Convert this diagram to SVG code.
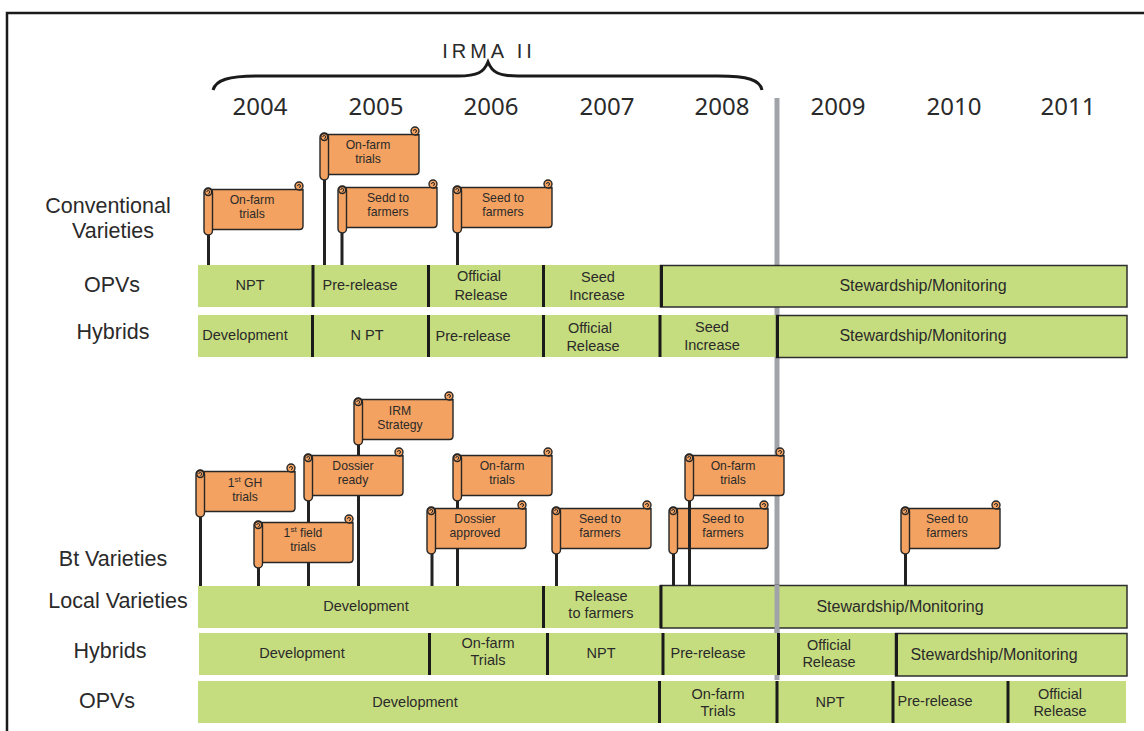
<svg xmlns="http://www.w3.org/2000/svg" xmlns:xlink="http://www.w3.org/1999/xlink" width="1144" height="731" viewBox="0 0 1144 731">
<style>
.t{font-family:"Liberation Sans",Arial,sans-serif;fill:#2a2a2a;text-anchor:middle}
.yr{font-family:"Noto Sans","Liberation Sans",sans-serif;font-size:24px}
.row{font-size:21.5px}
.bar{font-size:14.5px}
.stw{font-size:16px}
.fl{font-size:12.2px}
.seg{fill:#C6DD7F}
.box{fill:#C6DD7F;stroke:#2e2e2e;stroke-width:1.5}
.div{stroke:#1a1a1a;stroke-width:3}
.fb{fill:#F4A261;stroke:#262626;stroke-width:1.4}
.sp{fill:none;stroke:#262626;stroke-width:1}
.pole{stroke:#222;stroke-width:3}
</style>
<defs>
<g id="flag">
<path class="fb" d="M8,0.5 H99 V37 Q99,40.5 95.5,40.5 H8 Z"/>
<circle class="fb" cx="95" cy="-3" r="4"/>
<path class="sp" d="M95,-3 m-1.5,0 a1.5,1.5 0 1,1 1.5,1.5 M95,1 H99"/>
<rect class="fb" x="0" y="-1" width="8.5" height="47" rx="4.25"/>
<circle class="fb" cx="4.25" cy="3" r="3.5"/>
<path class="sp" d="M4.25,3 m-1.5,0 a1.5,1.5 0 1,1 1.5,1.5"/>
</g>
</defs>
<rect width="1144" height="731" fill="#fff"/>
<path d="M7,731 V13 H1144" fill="none" stroke="#1a1a1a" stroke-width="2.5"/>
<g id="title">
<text class="t" x="489" y="58" font-size="20" letter-spacing="4" font-family="Noto Sans, sans-serif">IRMA II</text>
<path d="M213,90 C216,80 228,76 258,76 L458,76 C478,76 484,72 488,62 C492,72 498,76 518,76 L718,76 C748,76 760,80 762,90" fill="none" stroke="#1a1a1a" stroke-width="3"/>
</g>
<g id="years">
<text class="t yr" x="260" y="115">2004</text>
<text class="t yr" x="376" y="115">2005</text>
<text class="t yr" x="491" y="115">2006</text>
<text class="t yr" x="607" y="115">2007</text>
<text class="t yr" x="722" y="115">2008</text>
<text class="t yr" x="838" y="115">2009</text>
<text class="t yr" x="954" y="115">2010</text>
<text class="t yr" x="1068" y="115">2011</text>
</g>
<g id="row-labels">
<text class="t row" x="108" y="213">Conventional</text>
<text class="t row" x="113" y="238">Varieties</text>
<text class="t row" x="112" y="292">OPVs</text>
<text class="t row" x="113" y="339">Hybrids</text>
<text class="t row" x="113" y="566">Bt Varieties</text>
<text class="t row" x="118" y="608">Local Varieties</text>
<text class="t row" x="110" y="658">Hybrids</text>
<text class="t row" x="107" y="708">OPVs</text>
</g>
<g id="connectors">
<line x1="777" y1="98" x2="777" y2="680" stroke="#A0A4A8" stroke-width="5"/>
</g>
<g id="c-opv-npt"><rect class="seg" x="198" y="265" width="116" height="42"/><text class="t bar" x="250" y="290">NPT</text></g>
<g id="c-opv-pre"><rect class="seg" x="313" y="265" width="116" height="42"/><text class="t bar" x="360" y="290">Pre-release</text></g>
<g id="c-opv-off"><rect class="seg" x="428" y="265" width="116" height="42"/><text class="t bar" x="479" y="281">Official</text><text class="t bar" x="481" y="300">Release</text></g>
<g id="c-opv-seed"><rect class="seg" x="543" y="265" width="117" height="42"/><text class="t bar" x="598" y="282">Seed</text><text class="t bar" x="597" y="300">Increase</text></g>
<g id="c-opv-stw"><rect class="box" x="660.5" y="265.5" width="466.5" height="41.5"/><text class="t stw" x="923" y="291">Stewardship/Monitoring</text></g>
<g id="c-hyb-dev"><rect class="seg" x="198" y="315" width="115" height="42"/><text class="t bar" x="245" y="340">Development</text></g>
<g id="c-hyb-npt"><rect class="seg" x="312" y="315" width="117" height="42"/><text class="t bar" x="367" y="340">N PT</text></g>
<g id="c-hyb-pre"><rect class="seg" x="428" y="315" width="116" height="42"/><text class="t bar" x="473" y="341">Pre-release</text></g>
<g id="c-hyb-off"><rect class="seg" x="543" y="315" width="118" height="42"/><text class="t bar" x="590" y="333">Official</text><text class="t bar" x="593" y="351">Release</text></g>
<g id="c-hyb-seed"><rect class="seg" x="660" y="315" width="116" height="42"/><text class="t bar" x="712" y="332" font-size="15.5">Seed</text><text class="t bar" x="712" y="350" font-size="15.5">Increase</text></g>
<g id="c-hyb-stw"><rect class="box" x="776.5" y="315.5" width="350.5" height="42"/><text class="t stw" x="923" y="341">Stewardship/Monitoring</text></g>
<g id="b-loc-dev"><rect class="seg" x="198" y="586" width="346" height="42"/><text class="t bar" x="366" y="611">Development</text></g>
<g id="b-loc-rel"><rect class="seg" x="543" y="586" width="117" height="42"/><text class="t bar" x="601" y="601">Release</text><text class="t bar" x="601" y="618">to farmers</text></g>
<g id="b-loc-stw"><rect class="box" x="660.5" y="585.5" width="466.5" height="42.5"/><text class="t stw" x="900" y="612">Stewardship/Monitoring</text></g>
<g id="b-hyb-dev"><rect class="seg" x="199" y="633" width="231" height="42"/><text class="t bar" x="302" y="658">Development</text></g>
<g id="b-hyb-farm"><rect class="seg" x="429" y="633" width="119" height="42"/><text class="t bar" x="488" y="648">On-farm</text><text class="t bar" x="488" y="665">Trials</text></g>
<g id="b-hyb-npt"><rect class="seg" x="547" y="633" width="117" height="42"/><text class="t bar" x="601" y="658">NPT</text></g>
<g id="b-hyb-pre"><rect class="seg" x="663" y="633" width="116" height="42"/><text class="t bar" x="708" y="658">Pre-release</text></g>
<g id="b-hyb-off"><rect class="seg" x="778" y="633" width="118" height="42"/><text class="t bar" x="829" y="650">Official</text><text class="t bar" x="829" y="667">Release</text></g>
<g id="b-hyb-stw"><rect class="box" x="895.5" y="633.5" width="231.5" height="42.5"/><text class="t stw" x="994" y="660">Stewardship/Monitoring</text></g>
<g id="b-opv-dev"><rect class="seg" x="198" y="681" width="462" height="42"/><text class="t bar" x="415" y="707">Development</text></g>
<g id="b-opv-farm"><rect class="seg" x="659" y="681" width="119" height="42"/><text class="t bar" x="718" y="699">On-farm</text><text class="t bar" x="718" y="716">Trials</text></g>
<g id="b-opv-npt"><rect class="seg" x="777" y="681" width="117" height="42"/><text class="t bar" x="830" y="707">NPT</text></g>
<g id="b-opv-pre"><rect class="seg" x="893" y="681" width="116" height="42"/><text class="t bar" x="935" y="706">Pre-release</text></g>
<g id="b-opv-off"><rect class="seg" x="1008" y="681" width="118" height="42"/><text class="t bar" x="1060" y="699">Official</text><text class="t bar" x="1060" y="716">Release</text></g>
<g id="dividers">
<line class="div" x1="313" y1="265" x2="313" y2="307"/>
<line class="div" x1="428.5" y1="265" x2="428.5" y2="307"/>
<line class="div" x1="543.5" y1="265" x2="543.5" y2="307"/>
<line class="div" x1="661.5" y1="265" x2="661.5" y2="307"/>
<line class="div" x1="312.5" y1="315" x2="312.5" y2="357"/>
<line class="div" x1="428.5" y1="315" x2="428.5" y2="357"/>
<line class="div" x1="543.5" y1="315" x2="543.5" y2="357"/>
<line class="div" x1="660" y1="315" x2="660" y2="357"/>
<line class="div" x1="777.5" y1="315" x2="777.5" y2="358"/>
<line class="div" x1="543.5" y1="586" x2="543.5" y2="628"/>
<line class="div" x1="661" y1="585" x2="661" y2="628"/>
<line class="div" x1="429.5" y1="633" x2="429.5" y2="675"/>
<line class="div" x1="547.5" y1="633" x2="547.5" y2="675"/>
<line class="div" x1="663" y1="633" x2="663" y2="675"/>
<line class="div" x1="778.5" y1="633" x2="778.5" y2="675"/>
<line class="div" x1="896.5" y1="633" x2="896.5" y2="676"/>
<line class="div" x1="659.5" y1="681" x2="659.5" y2="723"/>
<line class="div" x1="777" y1="681" x2="777" y2="723"/>
<line class="div" x1="893" y1="681" x2="893" y2="723"/>
<line class="div" x1="1008" y1="681" x2="1008" y2="723"/>
</g>
<g id="gray-overlay"><line x1="777" y1="585" x2="777" y2="633" stroke="#A0A4A8" stroke-width="5"/></g>
<g id="flag-c1"><line class="pole" x1="208.5" y1="230" x2="208.5" y2="265"/><use xlink:href="#flag" x="204" y="189"/><text class="t fl" x="252" y="204">On-farm</text><text class="t fl" x="252" y="218">trials</text></g>
<g id="flag-c2"><line class="pole" x1="324.5" y1="175" x2="324.5" y2="265"/><use xlink:href="#flag" x="320" y="134"/><text class="t fl" x="368" y="149">On-farm</text><text class="t fl" x="368" y="163">trials</text></g>
<g id="flag-c3"><line class="pole" x1="342" y1="228" x2="342" y2="265"/><use xlink:href="#flag" x="338" y="187"/><text class="t fl" x="388" y="202">Sedd to</text><text class="t fl" x="388" y="216">farmers</text></g>
<g id="flag-c4"><line class="pole" x1="457.5" y1="228" x2="457.5" y2="265"/><use xlink:href="#flag" x="453" y="187"/><text class="t fl" x="503" y="202">Seed to</text><text class="t fl" x="503" y="216">farmers</text></g>
<g id="flag-b-gh"><line class="pole" x1="200.5" y1="512" x2="200.5" y2="586"/><use xlink:href="#flag" x="196" y="471"/><text class="t fl" x="245" y="487">1<tspan font-size="8" dy="-5">st</tspan><tspan dy="5"> GH</tspan></text><text class="t fl" x="245" y="501">trials</text></g>
<g id="flag-b-irm"><line class="pole" x1="358.5" y1="440" x2="358.5" y2="586"/><use xlink:href="#flag" x="354" y="399"/><text class="t fl" x="400" y="415">IRM</text><text class="t fl" x="400" y="429">Strategy</text></g>
<g id="flag-b-dr"><line class="pole" x1="308.5" y1="496" x2="308.5" y2="586"/><use xlink:href="#flag" x="304" y="455"/><text class="t fl" x="353" y="470">Dossier</text><text class="t fl" x="353" y="484">ready</text></g>
<g id="flag-b-field"><line class="pole" x1="258.5" y1="563" x2="258.5" y2="586"/><use xlink:href="#flag" x="254" y="522"/><text class="t fl" x="303" y="537">1<tspan font-size="8" dy="-5">st</tspan><tspan dy="5"> field</tspan></text><text class="t fl" x="303" y="551">trials</text></g>
<g id="flag-b-farm1"><line class="pole" x1="457.5" y1="496" x2="457.5" y2="586"/><use xlink:href="#flag" x="453" y="455"/><text class="t fl" x="502" y="470">On-farm</text><text class="t fl" x="502" y="484">trials</text></g>
<g id="flag-b-da"><line class="pole" x1="432" y1="549" x2="432" y2="586"/><use xlink:href="#flag" x="427" y="508"/><text class="t fl" x="475" y="523">Dossier</text><text class="t fl" x="475" y="537">approved</text></g>
<g id="flag-b-seed1"><line class="pole" x1="556.5" y1="549" x2="556.5" y2="586"/><use xlink:href="#flag" x="552" y="508"/><text class="t fl" x="600" y="523">Seed to</text><text class="t fl" x="600" y="537">farmers</text></g>
<g id="flag-b-seed2"><line class="pole" x1="673.5" y1="549" x2="673.5" y2="586"/><use xlink:href="#flag" x="669" y="508"/><text class="t fl" x="723" y="523">Seed to</text><text class="t fl" x="723" y="537">farmers</text></g>
<g id="flag-b-farm2"><use xlink:href="#flag" x="685" y="455"/><line class="pole" x1="689.5" y1="501" x2="689.5" y2="586"/><text class="t fl" x="733" y="470">On-farm</text><text class="t fl" x="733" y="484">trials</text></g>
<g id="flag-b-seed3"><line class="pole" x1="905.5" y1="549" x2="905.5" y2="586"/><use xlink:href="#flag" x="901" y="508"/><text class="t fl" x="947" y="523">Seed to</text><text class="t fl" x="947" y="537">farmers</text></g>
</svg>
